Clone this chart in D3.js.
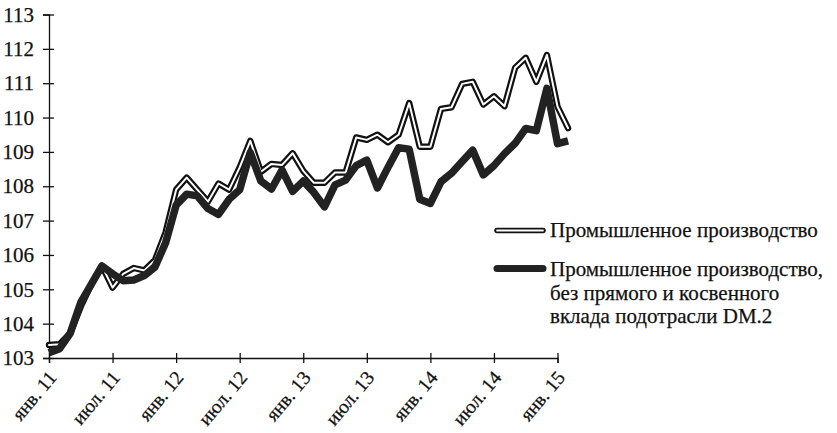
<!DOCTYPE html>
<html>
<head>
<meta charset="utf-8">
<script src="https://cdn.jsdelivr.net/npm/d3@7"></script>
<style>
  html, body { margin: 0; padding: 0; background: #fff; }
  svg { display: block; }
  text { font-family: "Liberation Serif", "Times New Roman", serif; fill: #111; }
</style>
</head>
<body>
<svg id="chart" width="837" height="433"></svg>
<script>
// ---- data (monthly, Jan 2011 .. Feb 2015) ----
const months = d3.timeMonth.range(new Date(2011, 0, 1), new Date(2015, 2, 1));
const tickLabels = ["янв. 11","июл. 11","янв. 12","июл. 12","янв. 13","июл. 13","янв. 14","июл. 14","янв. 15"];
const tickIndex = [0, 6, 12, 18, 24, 30, 36, 42, 48];
const yTicks = [103,104,105,106,107,108,109,110,111,112,113];

const industrial = [
  103.38, 103.40, 103.72, 104.50, 105.15, 105.68, 105.05, 105.45, 105.62, 105.55,
  105.85, 106.65, 107.90, 108.25, 107.90, 107.55, 108.08, 107.90, 108.55, 109.32,
  108.42, 108.65, 108.62, 108.96, 108.45, 108.10, 108.10, 108.40, 108.40, 109.42,
  109.35, 109.50, 109.28, 109.50, 110.42, 109.15, 109.15, 110.25, 110.30, 110.98,
  111.04, 110.38, 110.62, 110.33, 111.45, 111.74, 111.04, 111.82, 110.32, 109.69
];
const industrialExDM2 = [
  103.15, 103.27, 103.72, 104.62, 105.15, 105.68, 105.45, 105.25, 105.27, 105.40,
  105.65, 106.35, 107.45, 107.77, 107.72, 107.35, 107.18, 107.62, 107.90, 108.98,
  108.15, 107.92, 108.47, 107.85, 108.15, 107.82, 107.40, 108.04, 108.18, 108.60,
  108.76, 107.95, 108.55, 109.12, 109.08, 107.62, 107.50, 108.13, 108.38, 108.72,
  109.05, 108.33, 108.60, 108.95, 109.25, 109.68, 109.62, 110.85, 109.24, 109.32
];
const seriesNames = [
  ["Промышленное производство"],
  ["Промышленное производство,", "без прямого и косвенного", "вклада подотрасли DM.2"]
];

// ---- layout ----
const svg = d3.select("#chart");
const x0 = 49, x1 = 557.5, yTop = 14.5, yBot = 358;

const x = d3.scaleLinear().domain([0, 48]).range([x0, x1]);
const y = d3.scaleLinear().domain([103, 113]).range([yBot, yTop]);

// y axis
const yAxis = svg.append("g")
  .attr("transform", `translate(${x0},0)`)
  .call(d3.axisLeft(y).tickValues(yTicks).tickFormat(d3.format("d")).tickSizeOuter(0).tickSize(6).tickPadding(9));
yAxis.select(".domain").attr("stroke", "#111").attr("stroke-width", 1.3);
yAxis.selectAll(".tick line").attr("x1", 5).attr("x2", -6).attr("stroke", "#111").attr("stroke-width", 1.3);
yAxis.selectAll(".tick text").attr("font-size", 21).attr("font-family", "Liberation Serif")
  .attr("fill", "#111").attr("stroke", "#111").attr("stroke-width", 0.25);

// x axis
const xAxis = svg.append("g")
  .attr("transform", `translate(0,${yBot})`)
  .call(d3.axisBottom(x).tickValues(tickIndex).tickFormat((d, i) => tickLabels[i]).tickSizeOuter(0).tickSize(5));
xAxis.select(".domain").attr("stroke", "#111").attr("stroke-width", 1.3);
xAxis.selectAll(".tick line").attr("y1", -5).attr("y2", 5).attr("stroke", "#111").attr("stroke-width", 1.3);
xAxis.selectAll(".tick text")
  .attr("font-size", 19.5).attr("font-family", "Liberation Serif")
  .attr("fill", "#111").attr("stroke", "#111").attr("stroke-width", 0.25)
  .attr("text-anchor", "end")
  .attr("dy", null).attr("y", 0)
  .attr("transform", "translate(8,20) rotate(-50)");

// lines
const line = d3.line().x((d, i) => x(i)).y(d => y(d)).curve(d3.curveLinear);

const g = svg.append("g");
g.append("path").datum(industrial)
  .attr("d", line).attr("fill", "none")
  .attr("stroke", "#111").attr("stroke-width", 6.4).attr("stroke-linejoin", "round").attr("stroke-linecap", "round");
g.append("path").datum(industrial)
  .attr("d", line).attr("fill", "none")
  .attr("stroke", "#fff").attr("stroke-width", 2).attr("stroke-linejoin", "round").attr("stroke-linecap", "round");
g.append("path").datum(industrialExDM2)
  .attr("d", line).attr("fill", "none")
  .attr("stroke", "#222").attr("stroke-width", 7.5).attr("stroke-linejoin", "round").attr("stroke-linecap", "butt");

// legend
const lg = svg.append("g");
const lx0 = 497, lx1 = 543;
lg.append("line").attr("x1", lx0).attr("x2", lx1).attr("y1", 230.5).attr("y2", 230.5)
  .attr("stroke", "#111").attr("stroke-width", 5.5).attr("stroke-linecap", "round");
lg.append("line").attr("x1", lx0).attr("x2", lx1).attr("y1", 230.5).attr("y2", 230.5)
  .attr("stroke", "#fff").attr("stroke-width", 1.8).attr("stroke-linecap", "round");
lg.append("line").attr("x1", lx0).attr("x2", lx1).attr("y1", 268.5).attr("y2", 268.5)
  .attr("stroke", "#222").attr("stroke-width", 7).attr("stroke-linecap", "round");

lg.append("text").attr("x", 550).attr("y", 237).attr("font-size", 21)
  .attr("stroke", "#111").attr("stroke-width", 0.25).text(seriesNames[0][0]);
const t2 = lg.append("text").attr("x", 550).attr("y", 276).attr("font-size", 21)
  .attr("stroke", "#111").attr("stroke-width", 0.25);
seriesNames[1].forEach((s, i) => {
  t2.append("tspan").attr("x", 550).attr("dy", i === 0 ? 0 : 23.5).text(s);
});
</script>
</body>
</html>
